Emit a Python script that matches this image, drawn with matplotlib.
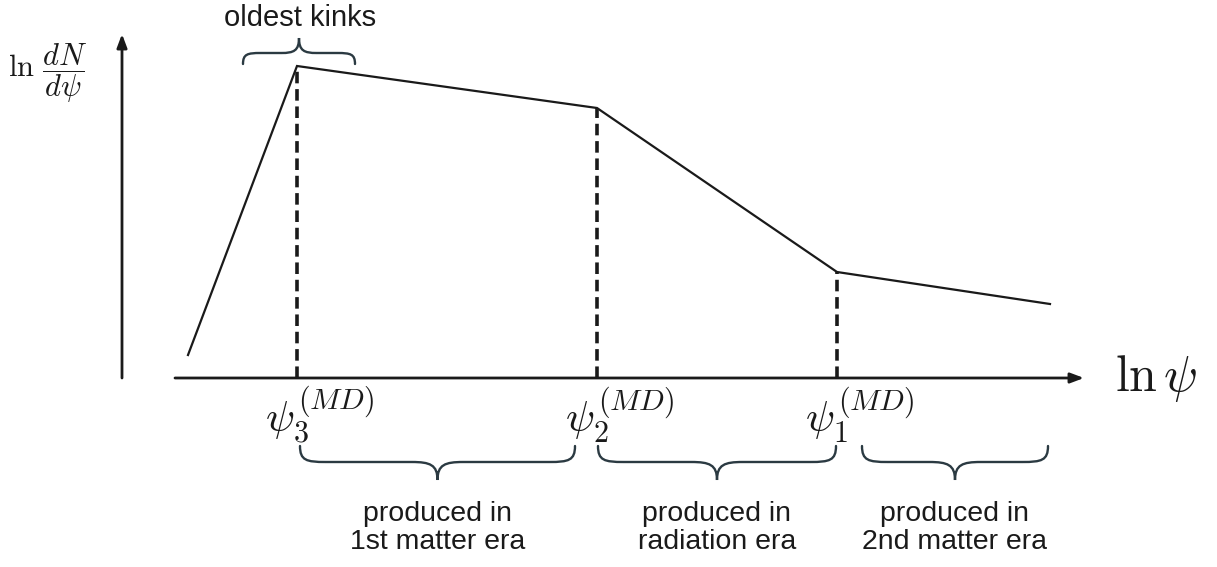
import numpy as np
import matplotlib.pyplot as plt
from matplotlib.path import Path
from matplotlib.patches import PathPatch

plt.rcParams['mathtext.fontset'] = 'cm'

# knots of the schematic spectrum (ln psi, ln dN/dpsi), arbitrary units
ln_psi = [66, 175, 475, 715, 928]
ln_dn = [23, 312, 270, 106, 74]

# break points psi_3, psi_2, psi_1 (indices into the knots)
breaks = [1, 2, 3]
break_labels = [r'$\psi_3^{(MD)}$', r'$\psi_2^{(MD)}$', r'$\psi_1^{(MD)}$']

# era braces below the axis
eras = [(178, 453, 'produced in\n1st matter era'),
        (476, 714, 'produced in\nradiation era'),
        (740, 926, 'produced in\n2nd matter era')]

INK = '#1a1a1a'


def brace(ax, xa, xb, y0, e, t, s):
    # curly brace with ends at y0, flat part at y0+s*e, tip at y0+s*(e+t)
    mid = (xa + xb) / 2
    r = min(e * 1.6, (xb - xa) / 6)
    yf = y0 + s * e
    yt = yf + s * t
    verts = [(xa, y0),
             (xa, y0 + s * e * 0.9), (xa + r * 0.25, yf), (xa + r, yf),
             (mid - r, yf),
             (mid - r * 0.3, yf), (mid, yf + s * t * 0.15), (mid, yt),
             (mid, yf + s * t * 0.15), (mid + r * 0.3, yf), (mid + r, yf),
             (xb - r, yf),
             (xb - r * 0.25, yf), (xb, y0 + s * e * 0.9), (xb, y0)]
    codes = [Path.MOVETO,
             Path.CURVE4, Path.CURVE4, Path.CURVE4,
             Path.LINETO,
             Path.CURVE4, Path.CURVE4, Path.CURVE4,
             Path.CURVE4, Path.CURVE4, Path.CURVE4,
             Path.LINETO,
             Path.CURVE4, Path.CURVE4, Path.CURVE4]
    ax.add_patch(PathPatch(Path(verts, codes), fill=False, lw=1.7,
                           edgecolor='#2b3a42', capstyle='round'))


fig = plt.figure(figsize=(12.17, 5.67), dpi=100)
ax = fig.add_axes([0, 0, 1, 1])
ax.set_xlim(-122, 1095)
ax.set_ylim(-189, 378)
ax.axis('off')

# axes arrows
ax.annotate('', xy=(0, 344), xytext=(0, 0),
            arrowprops=dict(arrowstyle='-|>,head_length=0.8,head_width=0.3',
                            lw=2, color=INK, shrinkA=0, shrinkB=0))
ax.annotate('', xy=(962, 0), xytext=(53, 0),
            arrowprops=dict(arrowstyle='-|>,head_length=0.8,head_width=0.3',
                            lw=2, color=INK, shrinkA=0, shrinkB=0))

# spectrum
ax.plot(ln_psi, ln_dn, color=INK, lw=1.6, solid_joinstyle='miter')

# dashed break lines and their labels
for i, lab in zip(breaks, break_labels):
    ax.plot([ln_psi[i], ln_psi[i]], [0, ln_dn[i]], color=INK, lw=2.6,
            linestyle=(0, (3.2, 1.6)))
    ax.text(ln_psi[i] - 32, -7, lab, fontsize=31, ha='left', va='top',
            color=INK)

ax.text(993, 0, r'$\ln\psi$', fontsize=36, ha='left', va='center', color=INK)
ax.text(-114, 305, r'$\ln\,\dfrac{dN}{d\psi}$', fontsize=22, ha='left',
        va='center', color=INK)

# oldest kinks brace
brace(ax, 121, 233, 314, 11, 15, 1)
ax.text(178, 360, 'oldest kinks', fontsize=21, ha='center', va='center',
        family='Liberation Sans', color=INK)

for xa, xb, lab in eras:
    brace(ax, xa, xb, -68, 16, 18, -1)
    ax.text((xa + xb) / 2, -150, lab, fontsize=20.5, ha='center',
            va='center', family='Liberation Sans', color=INK,
            linespacing=1.07)

fig.savefig('out.png', dpi=100)
